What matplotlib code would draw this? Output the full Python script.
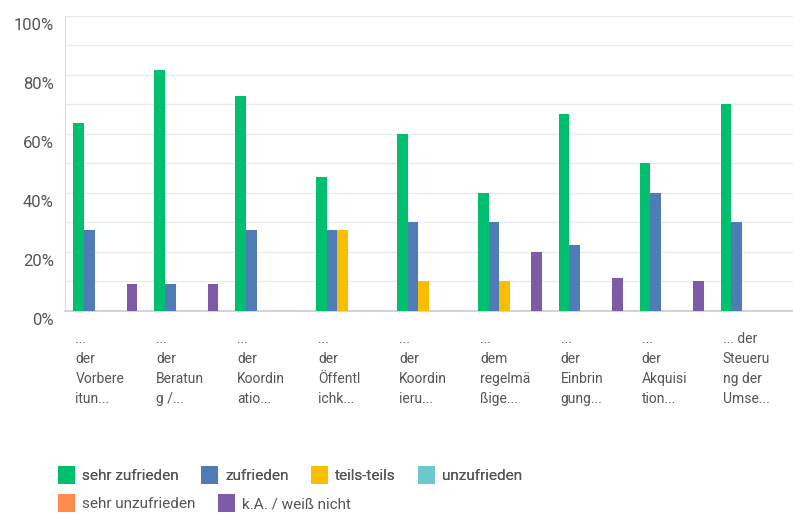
import matplotlib.pyplot as plt
import matplotlib.transforms as mtransforms
from matplotlib.patches import Patch
import numpy as np

plt.rcParams['font.family'] = ['Roboto', 'DejaVu Sans']

# === DATA ===
categories = [
    "...\nder\nVorbere\nitun...",
    "...\nder\nBeratun\ng /...",
    "...\nder\nKoordin\natio...",
    "...\nder\nÖffentl\nichk...",
    "...\nder\nKoordin\nieru...",
    "...\ndem\nregelmä\nßige...",
    "...\nder\nEinbrin\ngung...",
    "...\nder\nAkquisi\ntion...",
    "... der\nSteueru\nng der\nUmse...",
]
series_names = ["sehr zufrieden", "zufrieden", "teils-teils", "unzufrieden",
                "sehr unzufrieden", "k.A. / weiß nicht"]
sehr_zufrieden = [63.6, 81.8, 72.7, 45.5, 60.0, 40.0, 66.7, 50.0, 70.0]
zufrieden = [27.3, 9.1, 27.3, 27.3, 30.0, 30.0, 22.2, 40.0, 30.0]
teils_teils = [0, 0, 0, 27.3, 10.0, 10.0, 0, 0, 0]
unzufrieden = [0, 0, 0, 0, 0, 0, 0, 0, 0]
sehr_unzufrieden = [0, 0, 0, 0, 0, 0, 0, 0, 0]
weiss_nicht = [9.1, 9.1, 0, 0, 0, 20.0, 11.1, 10.0, 0]
colors = ["#00BF6F", "#507CB6", "#F9BE00", "#6BC8CD", "#FF8B4F", "#7D5BA6"]

values = [sehr_zufrieden, zufrieden, teils_teils, unzufrieden, sehr_unzufrieden, weiss_nicht]

# === PLOT ===
fig = plt.figure(figsize=(7.93, 5.14), dpi=100)
ax = fig.add_axes([65 / 793, 1 - 310.7 / 514, 1 - 65 / 793, (310.7 - 16) / 514])

x = np.arange(len(categories))
w = 0.132
for i, (vals, col) in enumerate(zip(values, colors)):
    ax.bar(x + (i - 2.5) * w, vals, width=w, color=col, linewidth=0, zorder=3)

ax.set_xlim(-0.5, len(categories) - 0.5)
ax.set_ylim(0, 100)
ax.set_yticks(range(0, 101, 20))
ax.set_yticklabels([f"{v}%" for v in range(0, 101, 20)], fontsize=12, color="#555555")
ax.set_yticks(range(10, 100, 10), minor=True)
ax.grid(axis='y', which='both', color='#ebebeb', linewidth=1, zorder=0)
ax.tick_params(axis='both', which='both', length=0)
ax.tick_params(axis='y', pad=8)

ax.set_xticks(x)
ax.set_xticklabels(categories, fontsize=10, color="#555555", ha='left',
                   va='top', linespacing=1.55)
ax.tick_params(axis='x', pad=15)

shift_x = mtransforms.ScaledTranslation(-30 / 100, 0, fig.dpi_scale_trans)
for lab in ax.get_xticklabels():
    lab.set_transform(lab.get_transform() + shift_x)
shift_y = mtransforms.ScaledTranslation(0, -8 / 100, fig.dpi_scale_trans)
for lab in ax.get_yticklabels():
    lab.set_transform(lab.get_transform() + shift_y)

for s in ['top', 'right']:
    ax.spines[s].set_visible(False)
ax.spines['left'].set_color('#dddddd')
ax.spines['bottom'].set_color('#cccccc')
ax.spines['bottom'].set_linewidth(1.2)

# legend: two flowing rows
handles = [Patch(facecolor=c, edgecolor='none') for c in colors]
leg_kw = dict(frameon=False, fontsize=11, handlelength=1.1, handleheight=1.4,
              handletextpad=0.45, columnspacing=1.5, borderpad=0, borderaxespad=0,
              labelcolor='#555555', loc='center left')
leg1 = fig.legend(handles[:4], series_names[:4], ncol=4,
                  bbox_to_anchor=(58 / 793, 1 - 475 / 514), **leg_kw)
fig.add_artist(leg1)
fig.legend(handles[4:], series_names[4:], ncol=2,
           bbox_to_anchor=(58 / 793, 1 - 503 / 514), **leg_kw)

fig.savefig("out.png", dpi=100)
